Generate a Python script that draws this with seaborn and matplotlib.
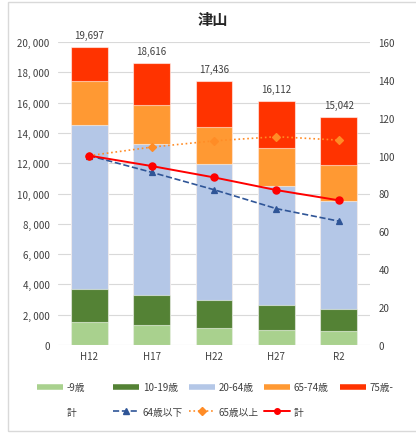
import numpy as np
import pandas as pd
import matplotlib
matplotlib.use("Agg")
import matplotlib.pyplot as plt
from matplotlib.lines import Line2D
from matplotlib.patches import Rectangle
from matplotlib.ticker import FuncFormatter, MultipleLocator
import seaborn as sns

# ---- data ----
years = ["H12", "H17", "H22", "H27", "R2"]
age_0_9 = [1497, 1340, 1122, 990, 944]
age_10_19 = [2199, 1960, 1868, 1650, 1452]
age_20_64 = [10845, 9967, 8937, 7835, 7109]
age_65_74 = [2885, 2575, 2443, 2528, 2376]
age_75p = [2271, 2774, 3066, 3109, 3161]
bar_labels = ["-9歳", "10-19歳", "20-64歳", "65-74歳", "75歳-"]
bar_colors = ["#A9D18E", "#548235", "#B4C7E7", "#FF9933", "#FF3300"]

idx_under64 = [100, 91.2, 82.0, 72.0, 65.4]
idx_over65 = [100, 104.5, 107.8, 110.0, 108.2]
idx_total = [100, 94.5, 88.5, 81.8, 76.4]
line_labels = ["64歳以下", "65歳以上", "計"]
line_colors = ["#2F5597", "#FF8C26", "#FF0000"]
line_styles = ["--", ":", "-"]
line_markers = ["^", "D", "o"]
line_widths = [1.2, 1.2, 1.4]

title = "津山"

# ---- style ----
sns.set_theme(style="white")
plt.rcParams["font.family"] = ["Noto Sans CJK JP", "DejaVu Sans"]
txt = "#404040"

W, H = 416, 435
fig = plt.figure(figsize=(W / 100, H / 100), dpi=100)
fig.patch.set_facecolor("white")
fig.patches.append(Rectangle((8 / W, 3 / H), 1.2, 1 - 6 / H, transform=fig.transFigure,
                             fill=False, edgecolor="#D9D9D9", lw=1.0, zorder=0))

ax = fig.add_axes([58 / W, 1 - 346 / H, 312 / W, 303 / H])

segments = [age_0_9, age_10_19, age_20_64, age_65_74, age_75p]
df = pd.DataFrame({"year": years})
cum = np.cumsum(np.array(segments), axis=0)
# draw from the top of the stack downwards (overlay)
for k in range(len(segments) - 1, -1, -1):
    sns.barplot(x=df["year"], y=cum[k], ax=ax, color=bar_colors[k], width=0.59,
                saturation=1, edgecolor=(1, 1, 1, 0.55), linewidth=0.8, zorder=2)

ax.bar_label(ax.containers[0], labels=[f"{v:,}" for v in cum[-1]], padding=5,
             fontsize=7, color=txt)

ax.set_ylim(0, 20000)
ax.yaxis.set_major_locator(MultipleLocator(2000))
ax.yaxis.set_major_formatter(FuncFormatter(lambda v, p: f"{int(v):,}".replace(",", ", ")))
ax.set_xlim(-0.5, 4.5)
ax.set_axisbelow(True)
ax.yaxis.grid(True, color="#D9D9D9", lw=0.8)
ax.xaxis.grid(False)
for s in ax.spines.values():
    s.set_visible(False)
ax.set_xlabel("")
ax.set_ylabel("")
ax.tick_params(axis="y", length=0, pad=6, labelsize=7, labelcolor=txt)
ax.tick_params(axis="x", length=0, pad=4, labelsize=7, labelcolor=txt)

ax2 = ax.twinx()
for vals, c, ls, mk, lw in zip([idx_under64, idx_over65, idx_total], line_colors,
                               line_styles, line_markers, line_widths):
    sns.pointplot(x=years, y=vals, ax=ax2, color=c, linestyles=ls, markers=mk,
                  errorbar=None, markersize=5 if mk != "D" else 4, linewidth=lw)
ax2.set_ylim(0, 160)
ax2.set_xlim(-0.5, 4.5)
ax2.yaxis.set_major_locator(MultipleLocator(20))
for s in ax2.spines.values():
    s.set_visible(False)
ax2.set_ylabel("")
ax2.set_xlabel("")
ax2.grid(False)
ax2.tick_params(axis="y", length=0, pad=6, labelsize=7, labelcolor=txt)

fig.text(213 / W, 1 - 20 / H, title, ha="center", va="center", fontsize=11,
         fontweight="bold", color="#262626")

# ---- legend: 5 columns, 2 rows ----
bar_handles = [Line2D([], [], color=c, lw=4, solid_capstyle="butt") for c in bar_colors]
blank = Line2D([], [], color="none")
line_handles = [Line2D([], [], color=c, ls=ls, marker=mk, lw=lw, markersize=4)
                for c, ls, mk, lw in zip(line_colors, line_styles, line_markers, line_widths)]
col_x = [37, 113, 189, 264, 340]
row2 = [(blank, "計")] + list(zip(line_handles, line_labels))
for i in range(5):
    hs = [bar_handles[i]]
    ls_ = [bar_labels[i]]
    if i < len(row2):
        hs.append(row2[i][0])
        ls_.append(row2[i][1])
    fig.legend(hs, ls_, loc="upper left", bbox_to_anchor=(col_x[i] / W, 1 - 383 / H),
               frameon=False, borderpad=0, borderaxespad=0, fontsize=7,
               handlelength=2.7, handletextpad=0.35, labelspacing=1.5,
               labelcolor=txt)

fig.savefig("out.png", dpi=100)
